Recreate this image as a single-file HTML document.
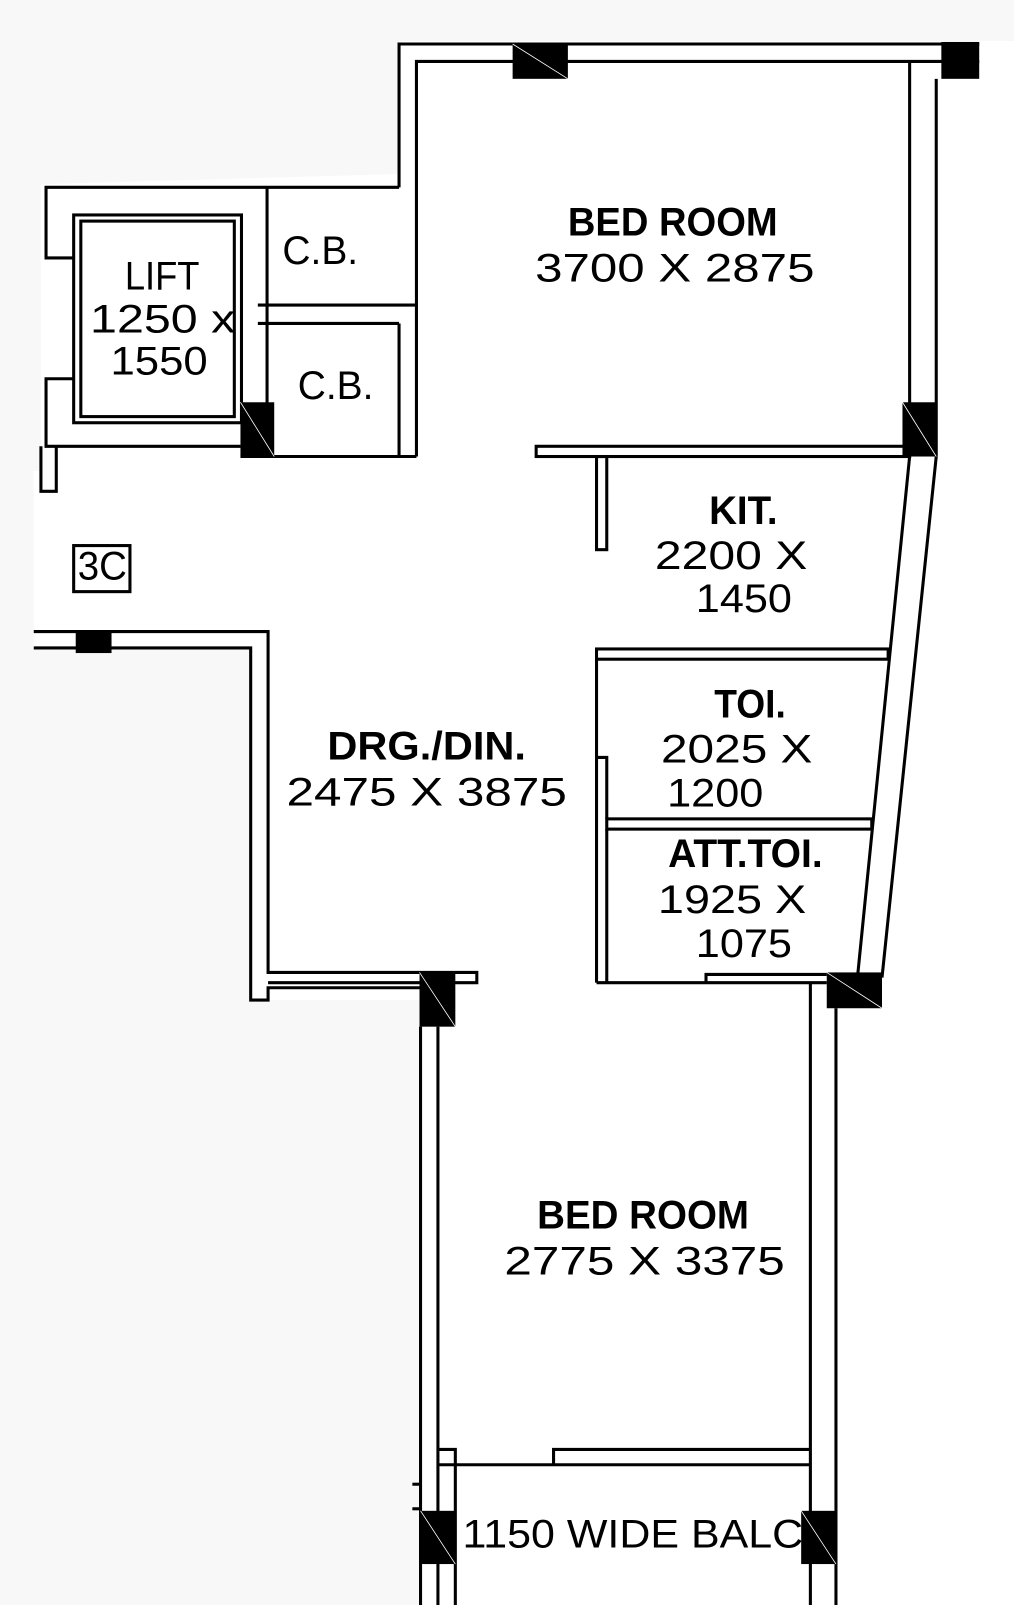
<!DOCTYPE html>
<html><head><style>
html,body{margin:0;padding:0;background:#fff;}
svg{display:block;}
text{font-family:"Liberation Sans",sans-serif;fill:#000;}
.b{font-weight:bold;}
</style></head><body>
<svg width="1014" height="1605" viewBox="0 0 991 1568" preserveAspectRatio="none" xmlns="http://www.w3.org/2000/svg">
<rect width="991" height="1568" fill="#fff"/>
<rect x="0" y="0" width="991" height="40" fill="#f8f8f8"/>
<polygon points="0,40 390,40 390,170 40,180 40,460 33,460 33,1568 0,1568" fill="#f8f8f8"/>
<rect x="0" y="633" width="245" height="935" fill="#f8f8f8"/>
<rect x="0" y="977" width="411" height="591" fill="#f8f8f8"/>
<g stroke="#000" stroke-width="3" fill="none">
<polyline points="390,183 390,43 957,43"/>
<polyline points="407,446 407,60 957,60"/>
<line x1="889" y1="60" x2="889" y2="446"/>
<line x1="915" y1="77" x2="915" y2="446"/>
<polyline points="390,183 45,183 45,252 72,252"/>
<polyline points="72,370 45,370 45,436 235,436"/>
<rect x="72" y="210" width="164" height="203"/>
<rect x="79" y="216" width="150" height="191"/>
<line x1="261" y1="183" x2="261" y2="446"/>
<line x1="252" y1="298" x2="407" y2="298"/>
<line x1="252" y1="316" x2="390" y2="316"/>
<line x1="390" y1="316" x2="390" y2="446"/>
<line x1="235" y1="446" x2="407" y2="446"/>
<polyline points="40,436 40,480 55,480 55,436"/>
<rect x="72" y="533" width="55" height="45"/>
<polyline points="33,617 262,617 262,950 466,950 466,960 262,960"/>
<polyline points="33,633 245,633 245,977 262,977 262,965 411,965"/>
<rect x="524" y="436" width="365" height="10"/>
<rect x="583" y="446" width="10" height="91"/>
<line x1="889" y1="446" x2="838" y2="955"/>
<line x1="915" y1="446" x2="862" y2="955"/>
<rect x="583" y="634" width="285" height="10"/>
<line x1="583" y1="644" x2="583" y2="960"/>
<polyline points="583,740 593,740 593,800"/>
<rect x="593" y="800" width="259" height="10"/>
<line x1="593" y1="810" x2="593" y2="960"/>
<line x1="583" y1="960" x2="808" y2="960"/>
<polyline points="690,960 690,952 808,952"/>
<line x1="411" y1="1003" x2="411" y2="1568"/>
<line x1="428" y1="1003" x2="428" y2="1568"/>
<line x1="792" y1="960" x2="792" y2="1568"/>
<line x1="817" y1="985" x2="817" y2="1568"/>
<line x1="428" y1="1431" x2="792" y2="1431"/>
<polyline points="541,1431 541,1416 792,1416"/>
<polyline points="428,1416 445,1416 445,1568"/>
<line x1="403" y1="1450" x2="411" y2="1450"/>
<line x1="403" y1="1474" x2="411" y2="1474"/>
</g>
<g fill="#000">
<rect x="501" y="43" width="54" height="34"/>
<rect x="920" y="41" width="37" height="36"/>
<rect x="882" y="393" width="33" height="53"/>
<rect x="235" y="393" width="33" height="53"/>
<rect x="74" y="617" width="35" height="21"/>
<rect x="410" y="950" width="35" height="53"/>
<rect x="808" y="950" width="54" height="35"/>
<rect x="411" y="1476" width="34" height="52"/>
<rect x="783" y="1476" width="34" height="52"/>
</g>
<g stroke="#fff" stroke-width="0.8">
<line x1="501" y1="43" x2="555" y2="77"/>
<line x1="882" y1="393" x2="915" y2="446"/>
<line x1="235" y1="393" x2="268" y2="446"/>
<line x1="410" y1="950" x2="445" y2="1003"/>
<line x1="808" y1="950" x2="862" y2="985"/>
<line x1="411" y1="1476" x2="445" y2="1528"/>
<line x1="783" y1="1476" x2="817" y2="1528"/>
</g>
<g font-size="39">
<text class="b" x="555" y="230" textLength="205" lengthAdjust="spacingAndGlyphs">BED  ROOM</text>
<text x="523" y="275" textLength="273" lengthAdjust="spacingAndGlyphs">3700  X  2875</text>
<text x="122" y="283" textLength="73" lengthAdjust="spacingAndGlyphs">LIFT</text>
<text x="88" y="325" textLength="142" lengthAdjust="spacingAndGlyphs">1250  x</text>
<text x="108" y="366" textLength="95" lengthAdjust="spacingAndGlyphs">1550</text>
<text x="276" y="258" textLength="74" lengthAdjust="spacingAndGlyphs">C.B.</text>
<text x="291" y="390" textLength="74" lengthAdjust="spacingAndGlyphs">C.B.</text>
<text x="76" y="566" textLength="48" lengthAdjust="spacingAndGlyphs">3C</text>
<text class="b" x="693" y="512" textLength="67" lengthAdjust="spacingAndGlyphs">KIT.</text>
<text x="640" y="556" textLength="149" lengthAdjust="spacingAndGlyphs">2200  X</text>
<text x="680" y="598" textLength="94" lengthAdjust="spacingAndGlyphs">1450</text>
<text class="b" x="698" y="701" textLength="70" lengthAdjust="spacingAndGlyphs">TOI.</text>
<text x="646" y="745" textLength="148" lengthAdjust="spacingAndGlyphs">2025  X</text>
<text x="652" y="788" textLength="94" lengthAdjust="spacingAndGlyphs">1200</text>
<text class="b" x="320" y="742" textLength="194" lengthAdjust="spacingAndGlyphs">DRG./DIN.</text>
<text x="280" y="787" textLength="274" lengthAdjust="spacingAndGlyphs">2475  X  3875</text>
<text class="b" x="653" y="847" textLength="151" lengthAdjust="spacingAndGlyphs">ATT.TOI.</text>
<text x="643" y="892" textLength="145" lengthAdjust="spacingAndGlyphs">1925  X</text>
<text x="680" y="935" textLength="94" lengthAdjust="spacingAndGlyphs">1075</text>
<text class="b" x="525" y="1200" textLength="207" lengthAdjust="spacingAndGlyphs">BED  ROOM</text>
<text x="493" y="1245" textLength="274" lengthAdjust="spacingAndGlyphs">2775  X  3375</text>
<text x="452" y="1512" textLength="333" lengthAdjust="spacingAndGlyphs">1150  WIDE  BALC</text>
</g>
</svg>
</body></html>
